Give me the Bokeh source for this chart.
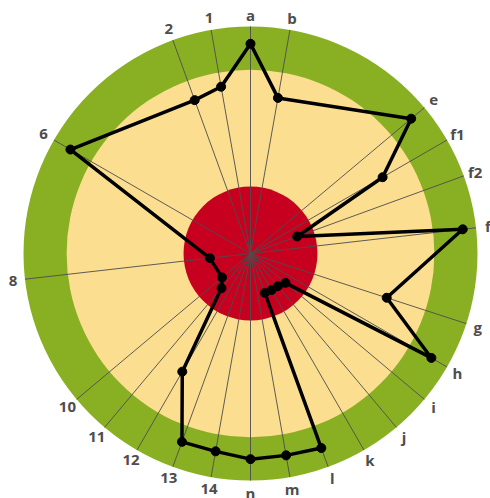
import math
from bokeh.plotting import figure
from bokeh.core.properties import value
from bokeh.embed import file_html
from bokeh.resources import INLINE

# category axis (clockwise angle in degrees from north)
categories = ["a", "b", "e", "f1", "f2", "f", "g", "h", "i", "j", "k", "l",
              "m", "n", "14", "13", "12", "11", "10", "8", "6", "2", "1"]
cat_angles = [0, 10, 50, 60, 70, 83.5, 108, 120, 130, 140, 150, 160,
              170, 180, 190, 200, 210, 220, 230, 263.5, 300, 340, 350]

# series (value scale 0..100, outer ring edge = 100)
point_cats = ["a", "b", "e", "f1", "f2", "f", "g", "h", "i", "j", "k", "l", "l",
              "m", "n", "14", "13", "12", "11", "10", "8", "6", "2", "1"]
point_vals = [92.4, 69.6, 92.4, 67.2, 21.9, 94.1, 63.1, 92.0, 20.1, 18.8, 18.6, 18.5, 91.2,
              90.3, 90.6, 88.5, 88.3, 60.1, 19.9, 16.4, 18.0, 91.6, 71.9, 74.6]

# bands
band_limits = [100, 81, 29.5]
band_colors = ["#89B022", "#FBDE8F", "#C8001F"]

W, H = 490, 498
CX, CY = 250, 253  # center in figure px (from left / top)
R = 227.0  # px for value 100

p = figure(width=W, height=H, output_backend="svg", toolbar_location=None,
           x_range=(-CX, W - CX), y_range=(-(H - CY), CY),
           min_border=0, outline_line_color=None)
p.axis.visible = False
p.grid.visible = False
p.background_fill_color = "white"

for lim, col in zip(band_limits, band_colors):
    p.circle(x=[0], y=[0], radius=lim / 100 * R, fill_color=col, line_color=None)

ang = dict(zip(categories, cat_angles))

# spokes
xs, ys = [], []
for c in categories:
    t = math.radians(ang[c])
    xs.append([0, R * math.sin(t)])
    ys.append([0, R * math.cos(t)])
p.multi_line(xs=xs, ys=ys, line_color="#4d4d4d", line_width=1, line_alpha=0.9)

# labels
LR = 239
lx = [LR * math.sin(math.radians(ang[c])) for c in categories]
ly = [LR * math.cos(math.radians(ang[c])) for c in categories]
p.text(x=lx, y=ly, text=categories, text_align="center", text_baseline="middle",
       text_font=value("Open Sans"), text_font_size="15px", text_font_style="bold",
       text_color="#4d4d4d")

# series
px = [v / 100 * R * math.sin(math.radians(ang[c])) for c, v in zip(point_cats, point_vals)]
py = [v / 100 * R * math.cos(math.radians(ang[c])) for c, v in zip(point_cats, point_vals)]
p.line(x=px + px[:1], y=py + py[:1], line_color="black", line_width=3.5, line_join="round")
p.scatter(x=px, y=py, size=9, fill_color="black", line_color="black")

open("out.html", "w").write(file_html(p, INLINE))
